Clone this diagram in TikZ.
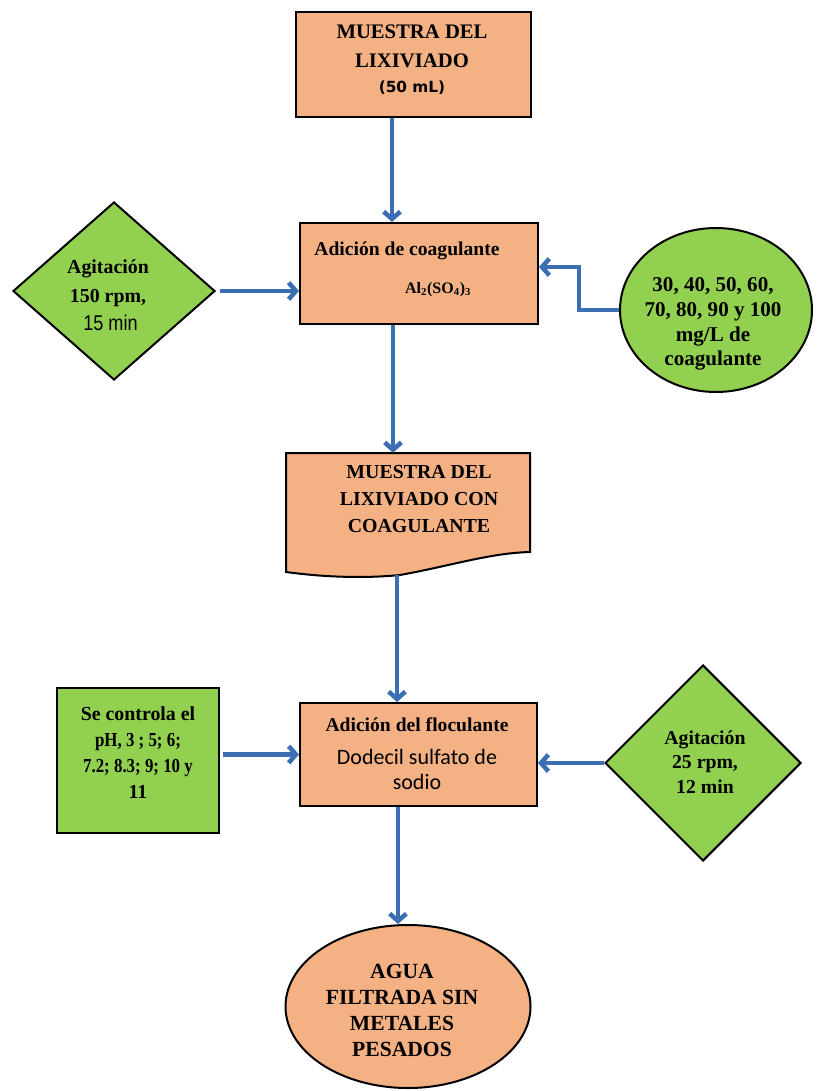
\documentclass[tikz,border=0pt]{standalone}
\usepackage{fontspec}
\setmainfont{Liberation Serif}
\newfontfamily\verdanalike{DejaVu Sans}
\newfontfamily\calibrilike{Carlito}
\newfontfamily\narrowsans[FakeStretch=0.85]{Liberation Sans}
\newfontfamily\condserif[FakeStretch=0.85]{Liberation Serif}
\newcommand{\dodecilfont}{\calibrilike\mdseries\fontsize{16.5}{18.75}\selectfont}
\usetikzlibrary{shapes.geometric,arrows.meta}
\definecolor{peach}{HTML}{F4B183}
\definecolor{leaf}{HTML}{92D050}
\definecolor{flow}{HTML}{3C6EB4}
\begin{document}
\begin{tikzpicture}[x=0.75pt,y=-0.75pt,
  shapebox/.style={draw=black,line width=1.5pt,inner sep=0pt},
  orangebox/.style={shapebox,rectangle,fill=peach},
  greenbox/.style={shapebox,rectangle,fill=leaf},
  greendiamond/.style={shapebox,diamond,fill=leaf},
  greenoval/.style={shapebox,ellipse,fill=leaf},
  orangeoval/.style={shapebox,ellipse,fill=peach},
  txt/.style={align=center,inner sep=0pt},
  arr/.style={draw=flow,line width=3.4pt,line join=miter,
    -{Straight Barb[length=5.5pt,width=12.5pt]}}]
\useasboundingbox (0,0) rectangle (818,1091);

% process boxes
\node[orangebox,minimum width=176.25pt,minimum height=78.75pt] (box1) at (413.5,64.5) {};
\node[orangebox,minimum width=178.5pt,minimum height=75.75pt] (box2) at (419,273.5) {};
\draw[line width=1.5pt,fill=peach] (286,453) -- (530,453) -- (530,552)
  .. controls (490,553) and (450,566) .. (400,575)
  .. controls (370,578) and (330,578) .. (286,572) -- cycle;
\node[inner sep=0pt,minimum width=183pt,minimum height=91.5pt] (box3) at (408,514) {};
\node[orangebox,minimum width=177.75pt,minimum height=77.25pt] (box4) at (418.5,754.5) {};
\node[orangeoval,minimum width=183.75pt,minimum height=122.25pt] (be) at (408,1006.5) {};

% side inputs
\node[greendiamond,minimum width=151.5pt,minimum height=133.5pt] (ld) at (114,291) {};
\node[greenoval,minimum width=144pt,minimum height=123pt] (re) at (716,310) {};
\node[greenbox,minimum width=121.5pt,minimum height=108.75pt] (lr) at (138,760.5) {};
\node[greendiamond,minimum width=147pt,minimum height=147pt] (rd) at (703,763) {};

% texts
\node[txt,font=\bfseries\fontsize{15.5}{21.75}\selectfont] (t1) at (412,60)
  {MUESTRA DEL\\LIXIVIADO\\[-3pt]{\verdanalike\fontsize{11.5}{13}\selectfont (50 mL)}};
\node[txt,align=left,font=\bfseries\fontsize{14.7}{28.5}\selectfont] (t2) at (407,269)
  {Adición de coagulante\\\hspace*{68pt}{\fontsize{12}{14}\selectfont Al\textsubscript{2}(SO\textsubscript{4})\textsubscript{3}}};
\node[txt,font=\bfseries\fontsize{14.9}{20.25}\selectfont] (t3) at (419,499)
  {MUESTRA DEL\\LIXIVIADO CON\\COAGULANTE};
\node[txt,font=\bfseries\fontsize{14.7}{18.75}\selectfont] (t4) at (417,754)
  {Adición del floculante\\[6pt]{\dodecilfont Dodecil sulfato de}\\{\dodecilfont sodio}};
\node[txt,font=\bfseries\fontsize{14.9}{21.4}\selectfont] (t5) at (108,295.5)
  {Agitación\\150 rpm,\\{\narrowsans\mdseries\fontsize{16}{21.4}\selectfont\ 15 min}};
\node[txt,font=\bfseries\fontsize{15.8}{18.5}\selectfont] (t6) at (713,324)
  {30, 40, 50, 60,\\70, 80, 90 y 100\\mg/L de\\coagulante};
\node[txt,font=\bfseries\fontsize{14.9}{19.7}\selectfont] (t7) at (138,752.5)
  {Se controla el\\{\condserif pH, 3 ; 5; 6;}\\{\condserif 7.2; 8.3; 9; 10 y}\\11};
\node[txt,font=\bfseries\fontsize{14.8}{18.5}\selectfont] (t8) at (705,762)
  {Agitación\\25 rpm,\\12 min};
\node[txt,font=\bfseries\fontsize{16.2}{19.5}\selectfont] (t9) at (402,1010)
  {AGUA\\FILTRADA SIN\\METALES\\PESADOS};

% connectors
\coordinate (c1) at (392,0);
\coordinate (c2) at (393,0);
\coordinate (c3) at (397,0);
\coordinate (c4) at (398,0);
\coordinate (bend) at (579,267);
\draw[arr] (box1.south -| c1) -- (box2.north -| c1);
\draw[arr] (box2.south -| c2) -- (box3.north -| c2);
\draw[arr] (box3.south -| c3) -- (box4.north -| c3);
\draw[arr] (box4.south -| c4) -- (be.north -| c4);
\draw[arr,shorten <=3pt] (ld.east) -- (box2.west |- ld.east);
\draw[arr] (re.west) -| (bend) -- (bend -| box2.east);
\draw[arr,shorten <=2pt] (lr.east |- box4.west) -- (box4.west);
\draw[arr] (rd.west) -- (box4.east |- rd.west);
\end{tikzpicture}
\end{document}
